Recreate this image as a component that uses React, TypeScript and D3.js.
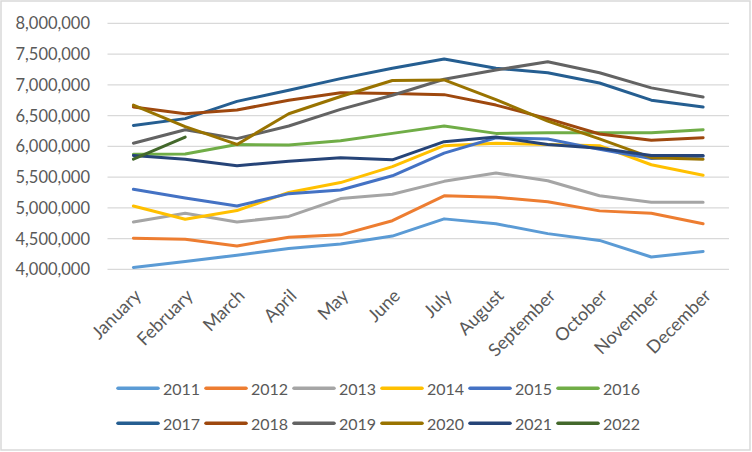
import React from "react";
import * as d3 from "d3";

// Monthly values per year
const months = [
  "January", "February", "March", "April", "May", "June",
  "July", "August", "September", "October", "November", "December",
];

const years = ["2011", "2012", "2013", "2014", "2015", "2016", "2017", "2018", "2019", "2020", "2021", "2022"];

const colors = [
  "#5B9BD5", "#ED7D31", "#A5A5A5", "#FFC000", "#4472C4", "#70AD47",
  "#255E91", "#9E480E", "#636363", "#997300", "#264478", "#43682B",
];

const s2011 = [4030000, 4125000, 4230000, 4340000, 4410000, 4540000, 4820000, 4740000, 4580000, 4470000, 4200000, 4290000];
const s2012 = [4505000, 4490000, 4380000, 4520000, 4560000, 4790000, 5195000, 5170000, 5100000, 4950000, 4910000, 4740000];
const s2013 = [4770000, 4910000, 4770000, 4860000, 5150000, 5220000, 5430000, 5565000, 5440000, 5195000, 5090000, 5090000];
const s2014 = [5030000, 4815000, 4955000, 5250000, 5410000, 5670000, 6010000, 6050000, 6030000, 6010000, 5700000, 5530000];
const s2015 = [5300000, 5160000, 5030000, 5230000, 5290000, 5520000, 5890000, 6140000, 6120000, 5950000, 5800000, 5840000];
const s2016 = [5870000, 5875000, 6030000, 6020000, 6090000, 6210000, 6330000, 6210000, 6220000, 6220000, 6220000, 6270000];
const s2017 = [6340000, 6450000, 6730000, 6910000, 7100000, 7270000, 7420000, 7270000, 7195000, 7030000, 6750000, 6640000];
const s2018 = [6640000, 6530000, 6590000, 6750000, 6870000, 6860000, 6840000, 6670000, 6450000, 6200000, 6100000, 6140000];
const s2019 = [6050000, 6270000, 6125000, 6330000, 6600000, 6830000, 7090000, 7240000, 7375000, 7195000, 6950000, 6800000];
const s2020 = [6670000, 6320000, 6030000, 6530000, 6810000, 7070000, 7080000, 6760000, 6410000, 6120000, 5815000, 5790000];
const s2021 = [5850000, 5790000, 5685000, 5755000, 5815000, 5780000, 6075000, 6150000, 6030000, 5970000, 5850000, 5850000];
const s2022 = [5790000, 6150000];

const series = [s2011, s2012, s2013, s2014, s2015, s2016, s2017, s2018, s2019, s2020, s2021, s2022];

const yTicks = [4000000, 4500000, 5000000, 5500000, 6000000, 6500000, 7000000, 7500000, 8000000];

const W = 752;
const H = 452;
const FONT = "Lato, 'Noto Sans', sans-serif";
const TEXT = "#595959";

export default function App() {
  const x = d3.scalePoint<string>().domain(months).range([107.5, 729]).padding(0.5);
  const y = d3.scaleLinear().domain([4000000, 8000000]).range([269.3, 23.3]);
  const fmt = d3.format(",");

  const line = d3
    .line<number>()
    .x((_d, i) => x(months[i]) as number)
    .y((d) => y(d));

  return (
    <svg
      width={W}
      height={H}
      style={{ position: "absolute", left: 0, top: 0, display: "block", background: "#fff" }}
      fontFamily={FONT}
    >
      <rect x={1} y={1} width={W - 3} height={H - 3} fill="#fff" stroke="#D9D9D9" strokeWidth={1.5} />

      {/* gridlines + y labels */}
      {yTicks.map((t) => (
        <g key={t}>
          <line x1={107.5} x2={729} y1={y(t)} y2={y(t)} stroke="#D9D9D9" strokeWidth={1.2} />
          <text x={90} y={y(t)} textAnchor="end" dominantBaseline="central" fontSize={16.5} fill={TEXT}>
            {fmt(t)}
          </text>
        </g>
      ))}

      {/* month labels, rotated like Excel's */}
      {months.map((m) => {
        const px = (x(m) as number) + 4;
        const py = 292;
        return (
          <text
            key={m}
            x={px}
            y={py}
            transform={`rotate(-45 ${px} ${py})`}
            textAnchor="end"
            dominantBaseline="central"
            fontSize={18}
            fill={TEXT}
          >
            {m}
          </text>
        );
      })}

      {/* series lines */}
      {series.map((s, i) => (
        <path
          key={years[i]}
          d={line(s) || ""}
          fill="none"
          stroke={colors[i]}
          strokeWidth={3}
          strokeLinecap="round"
          strokeLinejoin="round"
        />
      ))}

      {/* legend */}
      {years.map((yr, i) => {
        const col = i % 6;
        const row = Math.floor(i / 6);
        const lx = 118 + col * 88;
        const ly = row === 0 ? 388.3 : 423.3;
        return (
          <g key={yr}>
            <line x1={lx} x2={lx + 40} y1={ly} y2={ly} stroke={colors[i]} strokeWidth={3.5} strokeLinecap="round" />
            <text x={lx + 45} y={ly} dominantBaseline="central" fontSize={16} fill={TEXT}>
              {yr}
            </text>
          </g>
        );
      })}
    </svg>
  );
}
